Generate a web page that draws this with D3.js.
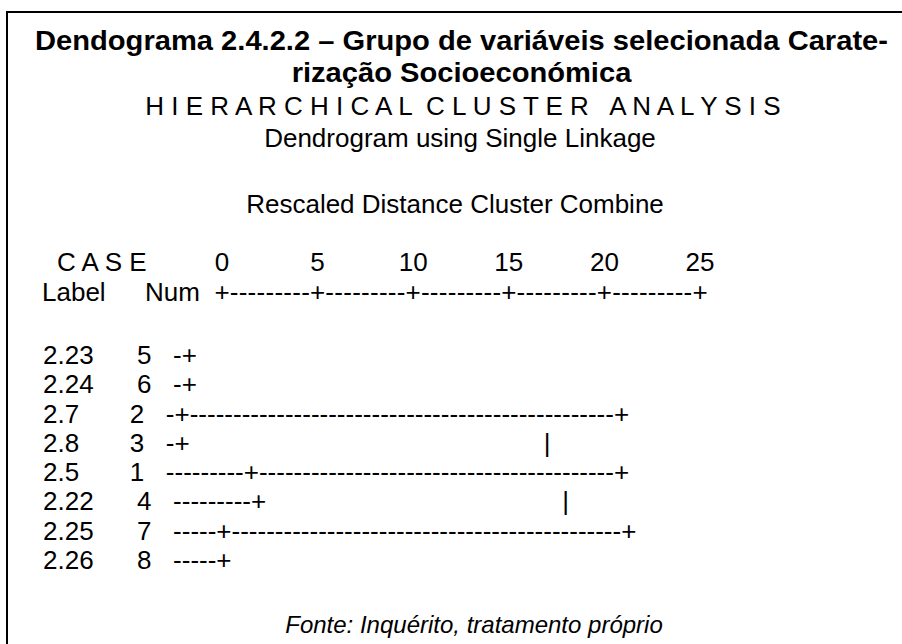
<!DOCTYPE html>
<html>
<head>
<meta charset="utf-8">
<script src="https://cdn.jsdelivr.net/npm/d3@7"></script>
<style>
  html, body { margin: 0; padding: 0; background: #fff; }
  svg text { font-family: "Liberation Sans", Arial, sans-serif; fill: #000; }
</style>
</head>
<body>
<svg id="mysvg" width="902" height="644"></svg>
<script>
// case rows, top to bottom, as printed by SPSS
var caseLabels = ["2.23", "2.24", "2.7", "2.8", "2.5", "2.22", "2.25", "2.26"];
var caseNums = [5, 6, 2, 3, 1, 4, 7, 8];

// rescaled distance ruler
var distTicks = [0, 5, 10, 15, 20, 25];

// agglomeration: rows joined, distance, row that carries the new cluster on
var joinRows = [[0, 1, 2, 3], [6, 7], [4, 5], [2, 4], [4, 6]];
var joinDist = [0, 2, 4, 25, 25];
var joinKeep = [2, 6, 4, 4, 4];

var svg = d3.select("#mysvg");

// frame (open on the right / bottom like the cropped page)
svg.append("path")
  .attr("d", "M7,644V12H902")
  .attr("fill", "none")
  .attr("stroke", "#000")
  .attr("stroke-width", 2);

// title, bold and slightly wide
svg.append("text")
  .attr("x", 35).attr("y", 50)
  .attr("font-size", 27).attr("font-weight", "bold")
  .attr("textLength", 853).attr("lengthAdjust", "spacingAndGlyphs")
  .text("Dendograma 2.4.2.2 \u2013 Grupo de vari\u00e1veis selecionada Carate-");

var t2 = svg.append("text")
  .attr("font-size", 27).attr("font-weight", "bold")
  .text("riza\u00e7\u00e3o Socioecon\u00f3mica");
var w2 = t2.node().getComputedTextLength() * 1.078;
t2.attr("x", 461.5 - w2 / 2).attr("y", 82)
  .attr("textLength", w2).attr("lengthAdjust", "spacingAndGlyphs");

svg.append("text")
  .attr("x", 463).attr("y", 115)
  .attr("font-size", 26).attr("text-anchor", "middle")
  .attr("xml:space", "preserve")
  .text("H I E R A R C H I C A L  C L U S T E R   A N A L Y S I S");

svg.append("text")
  .attr("x", 460).attr("y", 147)
  .attr("font-size", 26).attr("text-anchor", "middle")
  .text("Dendrogram using Single Linkage");

svg.append("text")
  .attr("x", 455).attr("y", 213)
  .attr("font-size", 26).attr("text-anchor", "middle")
  .text("Rescaled Distance Cluster Combine");

// header
svg.append("text").attr("x", 57).attr("y", 271).attr("font-size", 26)
  .attr("xml:space", "preserve").text("C A S E");
svg.append("text").attr("x", 42).attr("y", 301).attr("font-size", 26).text("Label");
svg.append("text").attr("x", 145).attr("y", 301).attr("font-size", 26).text("Num");

// ruler
var x = d3.scaleLinear().domain([0, 25]).range([222, 700]);

svg.selectAll(".tick-label")
  .data(distTicks)
  .enter().append("text")
    .attr("class", "tick-label")
    .attr("x", function(d) { return x(d); })
    .attr("y", 271)
    .attr("font-size", 26)
    .attr("text-anchor", "middle")
    .text(function(d) { return d; });

svg.selectAll(".tick-plus")
  .data(distTicks)
  .enter().append("text")
    .attr("class", "tick-plus")
    .attr("x", function(d) { return x(d); })
    .attr("y", 301)
    .attr("font-size", 26)
    .attr("text-anchor", "middle")
    .text("+");

var dashes = [];
for (var i = 0; i < distTicks.length - 1; i++) {
  var a = x(distTicks[i]) + 7.6, b = x(distTicks[i + 1]) - 7.6;
  for (var k = 0; k < 9; k++) dashes.push(a + (b - a) * (k + 0.5) / 9);
}
svg.selectAll(".tick-dash")
  .data(dashes)
  .enter().append("text")
    .attr("class", "tick-dash")
    .attr("x", function(d) { return d; })
    .attr("y", 301)
    .attr("font-size", 26)
    .attr("text-anchor", "middle")
    .text("-");

// build the ascii tree, two columns per distance unit
var col = d3.scaleLinear().domain([0, 25]).range([1, 51]);
var grid = caseLabels.map(function() { return []; });
var pos = caseLabels.map(function() { return 0; });

joinRows.forEach(function(rows, j) {
  var c = Math.round(col(joinDist[j]));
  rows.forEach(function(r) {
    for (var k = pos[r]; k < c; k++) grid[r][k] = "-";
    grid[r][c] = "+";
  });
  var lo = d3.min(rows), hi = d3.max(rows);
  for (var r = lo; r <= hi; r++) {
    if (grid[r][c] !== "+") grid[r][c] = "|";
  }
  pos[joinKeep[j]] = c + 1;
});

var lines = grid.map(function(g, i) {
  var s = "";
  for (var k = 0; k < g.length; k++) s += g[k] || " ";
  var lab = caseLabels[i];
  while (lab.length < 10) lab += " ";
  return lab + caseNums[i] + "   " + s;
});

var y = d3.scalePoint().domain(d3.range(caseLabels.length)).range([364, 569]);

svg.selectAll(".row")
  .data(lines)
  .enter().append("text")
    .attr("class", "row")
    .attr("x", 43)
    .attr("y", function(d, i) { return y(i); })
    .attr("font-size", 26)
    .attr("xml:space", "preserve")
    .text(function(d) { return d; });

// source
svg.append("text")
  .attr("x", 474).attr("y", 633)
  .attr("font-size", 24).attr("font-style", "italic")
  .attr("text-anchor", "middle")
  .text("Fonte: Inqu\u00e9rito, tratamento pr\u00f3prio");
</script>
</body>
</html>
